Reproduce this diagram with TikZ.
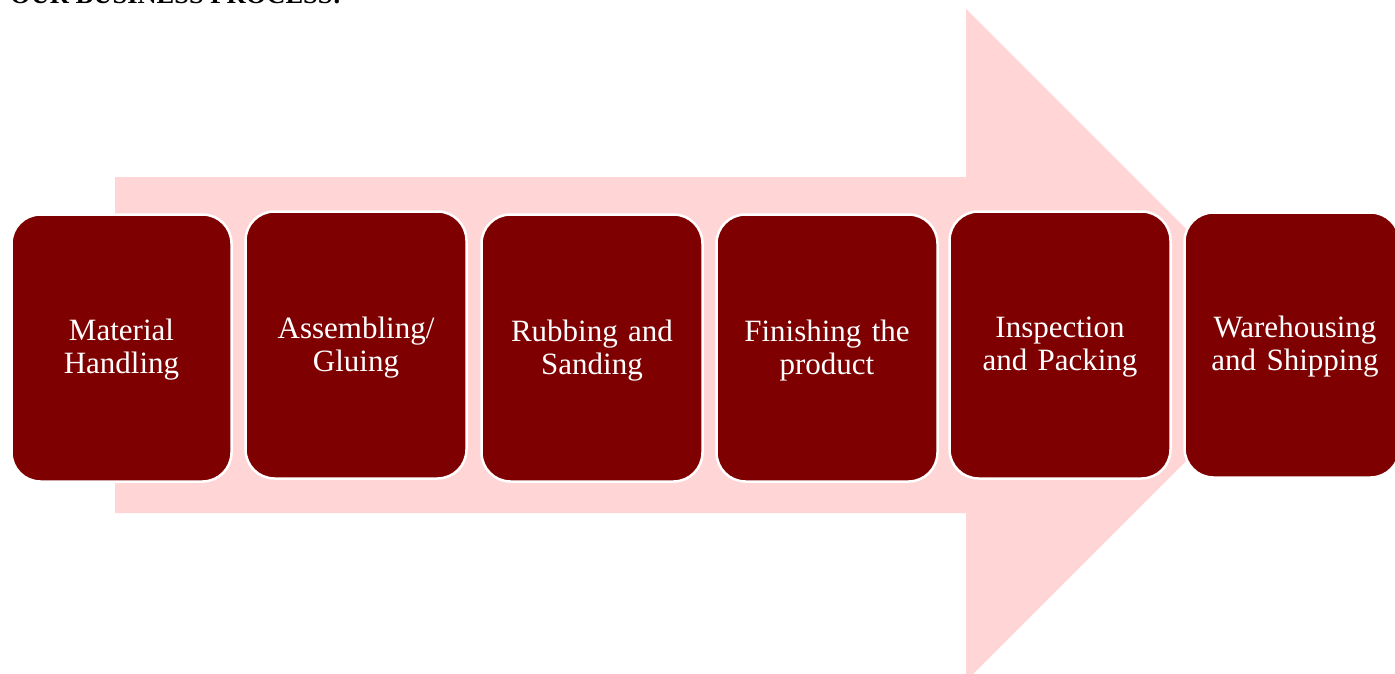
\documentclass[tikz,border=0pt]{standalone}
\usepackage{fontspec}
\setmainfont{Liberation Serif}
\definecolor{boxred}{HTML}{7F0000}
\definecolor{arrowpink}{HTML}{FFD5D5}
\tikzset{
  stepbox/.style={rectangle, rounded corners=29pt, fill=boxred, draw=white, line width=2.5pt,
    text=white, align=center, inner sep=0pt, text width=215pt,
    font=\fontsize{31}{33}\selectfont},
  steptext/.style={text=white, align=center, inner sep=0pt, text width=215pt,
    font=\fontsize{31}{33}\selectfont},
  bigarrow/.style={fill=arrowpink, draw=none}
}
\begin{document}
\begin{tikzpicture}[x=1pt,y=-1pt]
\useasboundingbox (0,0) rectangle (1395,674);
\fill[white] (0,0) rectangle (1395,674);
% title (cut off at top, as in the source)
\node[anchor=base west, inner sep=0pt, font=\fontsize{26.5}{30}\selectfont\bfseries] (title) at (10,4) {OUR BUSINESS PROCESS:};
% big arrow
\fill[bigarrow] (115,177) -- (966,177) -- (966,9) -- (1302,345) -- (966,681) -- (966,513) -- (115,513) -- cycle;
% steps
\node[stepbox, minimum width=220pt, minimum height=267pt] (s1) at (121.5,348) {};
\node[stepbox, minimum width=221pt, minimum height=267pt] (s2) at (356,345) {};
\node[stepbox, minimum width=221pt, minimum height=267pt] (s3) at (592,348) {};
\node[stepbox, minimum width=221pt, minimum height=267pt] (s4) at (827,348) {};
\node[stepbox, minimum width=221pt, minimum height=267pt] (s5) at (1060,345) {};
\node[stepbox, minimum width=215pt, minimum height=265pt] (s6) at (1292,345) {};
\node[steptext, anchor=base] (t1) at (121.5,340) {Material\\Handling};
\node[steptext, anchor=base] (t2) at (356,338) {Assembling/\\Gluing};
\node[steptext, anchor=base] (t3) at (592,341) {Rubbing and\\Sanding};
\node[steptext, anchor=base] (t4) at (827,341) {Finishing the\\product};
\node[steptext, anchor=base] (t5) at (1060,337) {Inspection\\and Packing};
\node[steptext, anchor=base] (t6) at (1295,337) {Warehousing\\and Shipping};
\end{tikzpicture}
\end{document}
